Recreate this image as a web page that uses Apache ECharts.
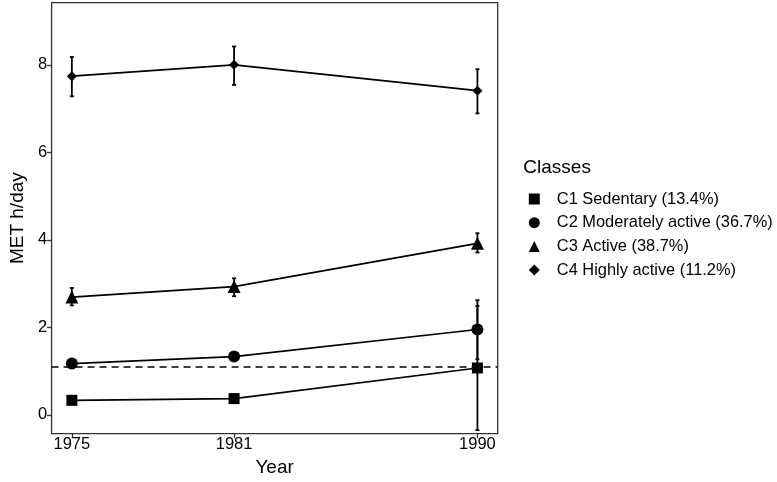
<!DOCTYPE html>
<html>
<head>
<meta charset="utf-8">
<script src="https://cdn.jsdelivr.net/npm/echarts@6/dist/echarts.min.js"></script>
<style>html,body{margin:0;padding:0;background:#fff;}#c{width:777px;height:482px;}</style>
</head>
<body>
<div id="c"></div>
<script>
const years = [1975, 1981, 1990];
const yTicks = [0, 2, 4, 6, 8];
const classNames = ['C1 Sedentary (13.4%)', 'C2 Moderately active (36.7%)', 'C3 Active (38.7%)', 'C4 Highly active (11.2%)'];
const c1Mean = [0.33, 0.37, 1.07];
const c1Low  = [0.28, 0.32, -0.35];
const c1High = [0.38, 0.42, 2.49];
const c2Mean = [1.17, 1.33, 1.95];
const c2Low  = [1.10, 1.26, 1.27];
const c2High = [1.24, 1.40, 2.62];
const c3Mean = [2.69, 2.93, 3.92];
const c3Low  = [2.50, 2.71, 3.71];
const c3High = [2.90, 3.12, 4.15];
const c4Mean = [7.74, 8.00, 7.41];
const c4Low  = [7.28, 7.54, 6.89];
const c4High = [8.18, 8.42, 7.90];
const refLine = 1.1;

const FONT = '"Liberation Sans", Arial, sans-serif';
const symbols = ['rect', 'circle', 'triangle', 'diamond'];
const symSizes = [11, 12, 13, 10];
const legendSizes = [10, 11, 12, 9];
const means = [c1Mean, c2Mean, c3Mean, c4Mean];
const lows = [c1Low, c2Low, c3Low, c4Low];
const highs = [c1High, c2High, c3High, c4High];

const series = [];
for (let k = 0; k < 4; k++) {
  series.push({
    name: classNames[k] + ' err',
    type: 'custom',
    data: years.map((y, i) => [y, lows[k][i], highs[k][i]]),
    encode: { x: 0, y: [1, 2] },
    z: 2,
    silent: true,
    renderItem: function (params, api) {
      const x = api.value(0);
      const lo = api.coord([x, api.value(1)]);
      const hi = api.coord([x, api.value(2)]);
      const cap = 2;
      const st = { stroke: '#000', lineWidth: 1.8 };
      return {
        type: 'group',
        children: [
          { type: 'line', shape: { x1: lo[0], y1: lo[1], x2: hi[0], y2: hi[1] }, style: st },
          { type: 'line', shape: { x1: lo[0] - cap, y1: lo[1], x2: lo[0] + cap, y2: lo[1] }, style: st },
          { type: 'line', shape: { x1: hi[0] - cap, y1: hi[1], x2: hi[0] + cap, y2: hi[1] }, style: st }
        ]
      };
    }
  });
}
for (let k = 0; k < 4; k++) {
  const s = {
    name: classNames[k],
    type: 'line',
    data: years.map((y, i) => [y, means[k][i]]),
    symbol: symbols[k],
    symbolSize: symSizes[k],
    showAllSymbol: true,
    itemStyle: { color: '#000' },
    lineStyle: { color: '#000', width: 1.7 },
    z: 3,
    silent: true
  };
  if (k === 0) {
    s.markLine = {
      silent: true,
      symbol: 'none',
      label: { show: false },
      lineStyle: { color: '#000', type: [7, 5], width: 1.5 },
      data: [{ yAxis: refLine }]
    };
  }
  series.push(s);
}

const chart = echarts.init(document.getElementById('c'));
chart.setOption({
  animation: false,
  backgroundColor: '#fff',
  textStyle: { fontFamily: FONT },
  grid: { left: 41.7, right: 279.3, top: 2.7, bottom: 44, show: true, borderColor: '#333', borderWidth: 1.3, backgroundColor: 'transparent' },
  title: {
    text: 'Classes', left: 518.3, top: 153.5,
    textStyle: { fontFamily: FONT, fontSize: 19, fontWeight: 'normal', color: '#000' }
  },
  legend: {
    orient: 'vertical', left: 523.8, top: 186,
    itemWidth: 11, itemHeight: 11, itemGap: 7.7,
    textStyle: { fontFamily: FONT, fontSize: 16.4, color: '#000', padding: [0, 0, 0, 12] },
    data: classNames.map((n, k) => ({ name: n, icon: symbols[k] }))
  },
  xAxis: {
    type: 'value', min: 1974.25, max: 1990.75,
    name: 'Year', nameLocation: 'middle', nameGap: 23,
    nameTextStyle: { fontFamily: FONT, fontSize: 19, color: '#000' },
    axisLine: { show: false, onZero: false },
    splitLine: { show: false },
    axisTick: { show: true, length: 4.5, lineStyle: { color: '#333', width: 1.3 }, customValues: years },
    axisLabel: { fontFamily: FONT, fontSize: 16.5, color: '#000', margin: 2.5, customValues: years, formatter: v => String(v) }
  },
  yAxis: {
    type: 'value', min: -0.43, max: 9.42,
    name: 'MET h/day', nameLocation: 'middle', nameGap: 22,
    nameTextStyle: { fontFamily: FONT, fontSize: 19, color: '#000' },
    axisLine: { show: false, onZero: false },
    splitLine: { show: false },
    axisTick: { show: true, length: 4.5, lineStyle: { color: '#333', width: 1.3 }, customValues: yTicks },
    axisLabel: { fontFamily: FONT, fontSize: 16.5, color: '#000', margin: 4.5, customValues: yTicks }
  },
  series: series
});
</script>
</body>
</html>
